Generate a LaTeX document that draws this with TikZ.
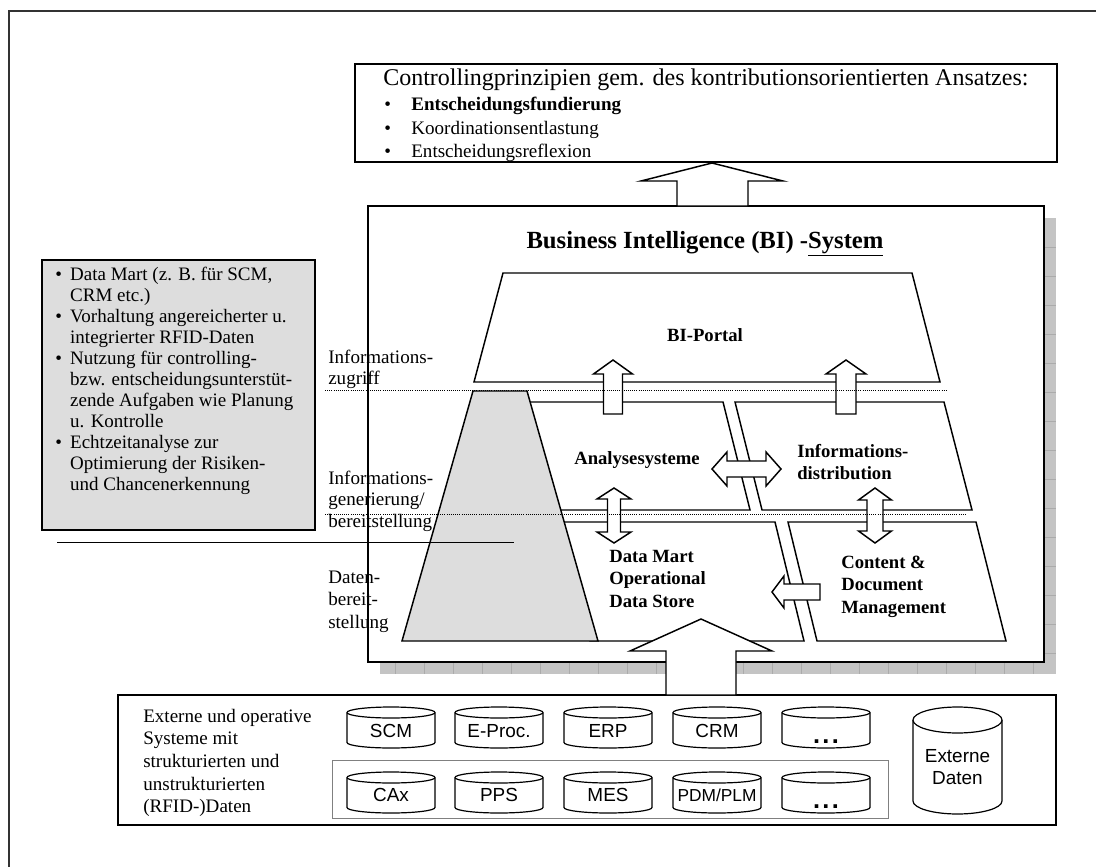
\documentclass[tikz,border=0pt]{standalone}
\usepackage{fontspec}
\setmainfont{Liberation Serif}
\setsansfont{Liberation Sans}
\definecolor{panelgray}{HTML}{DDDDDD}
\definecolor{shadowgray}{HTML}{C4C4C4}
\definecolor{shadowgrid}{HTML}{ABABAB}
\definecolor{framegray}{HTML}{333333}
% stacked lines whose first baseline is the node baseline
\newcommand\stackL[1]{\begin{tabular}[t]{@{}l@{}}#1\end{tabular}}
\newcommand\stackC[1]{\begin{tabular}[t]{@{}c@{}}#1\end{tabular}}
% spaced continuation dots for the open database slots
\newcommand\moredots{.\kern1.8pt.\kern1.8pt.}
% database cylinder: name, centre x, top y, bottom y, half width, ellipse half height, baseline, label, font
\newcommand\dbcyl[9]{%
  \draw[cylstyle] ({#2-#5},{#3+#6}) -- ({#2-#5},{#4-#6})
     arc[start angle=180,end angle=360,x radius=#5*0.75pt,y radius=#6*0.75pt]
     -- ({#2+#5},{#3+#6})
     arc[start angle=0,end angle=180,x radius=#5*0.75pt,y radius=#6*0.75pt] -- cycle;
  \draw[cylstyle] ({#2-#5},{#3+#6})
     arc[start angle=180,end angle=360,x radius=#5*0.75pt,y radius=#6*0.75pt];
  \node[dbtext,font=#9,anchor=base] (#1) at (#2,#7) {#8};
}
\begin{document}
\begin{tikzpicture}[x=0.75pt,y=-0.75pt,
  outline/.style={draw=black,line width=1.1pt},
  bibox/.style={draw=black,line width=1.5pt,fill=white},
  panel/.style={draw=black,line width=1.1pt,fill=white},
  pyramid/.style={draw=black,line width=1.1pt,fill=panelgray},
  blockarrow/.style={draw=black,line width=1.1pt,fill=white,line join=miter},
  guide/.style={densely dotted,line width=0.6pt},
  cylstyle/.style={draw=black,line width=0.9pt,fill=white},
  txt/.style={inner sep=0pt,font=\fontsize{14.3}{16.3}\selectfont},
  boldtxt/.style={inner sep=0pt,font=\bfseries\fontsize{14}{16.9}\selectfont},
  dbtext/.style={inner sep=0pt},
]
\useasboundingbox (0,0) rectangle (1096,867);

% page frame
\draw[framegray,line width=1.5pt] (9,880) -- (9,11) -- (1110,11);

% controlling principles
\draw[outline] (355,64) rectangle (1057,162);
\node[inner sep=0pt,anchor=base west,font=\fontsize{18}{20}\selectfont] (principles) at (383,86)
  {Controllingprinzipien gem. des kontributionsorientierten Ansatzes:};
\node[inner sep=0pt,anchor=base west,font=\fontsize{14.3}{17.4}\selectfont] (principlelist) at (384,111)
  {\begin{tabular}[t]{@{}l@{\hspace{15.3pt}}l@{}}
   \textbullet & \textbf{Entscheidungsfundierung}\\
   \textbullet & Koordinationsentlastung\\
   \textbullet & Entscheidungsreflexion
   \end{tabular}};

% BI system frame with its shadow
\fill[shadowgray] (380,218) rectangle (1056,674);
\begin{scope}
  \clip (380,218) rectangle (1056,674);
  \foreach \yy in {247,276,...,674} \draw[shadowgrid,line width=0.5pt] (380,\yy) -- (1056,\yy);
  \foreach \xx in {395,424,...,1056} \draw[shadowgrid,line width=0.5pt] (\xx,218) -- (\xx,674);
\end{scope}
\draw[bibox] (368,206) rectangle (1044,662);
\node[inner sep=0pt,anchor=base,font=\bfseries\fontsize{18.5}{22}\selectfont] (bititle) at (705,248)
  {Business Intelligence (BI) -\underline{System}};

% layers
\draw[panel] (503,273) -- (912,273) -- (940,382) -- (474,382) -- cycle;
\draw[panel] (500,402) -- (723,402) -- (750,510) -- (540,510) -- cycle;
\draw[panel] (735,402) -- (944,402) -- (972,510) -- (762,510) -- cycle;
\draw[panel] (540,522) -- (775,522) -- (804,641) -- (590,641) -- cycle;
\draw[panel] (788,522) -- (976,522) -- (1006,641) -- (817,641) -- cycle;
\draw[pyramid] (473,391) -- (527,391) -- (598,641) -- (402,641) -- cycle;

\node[boldtxt,anchor=base] (portal) at (705,341) {BI-Portal};
\node[boldtxt,anchor=base] (analysis) at (637,464) {Analysesysteme};
\node[boldtxt,anchor=base west] (distribution) at (797,457) {\stackL{Informations-\\distribution}};
\node[boldtxt,anchor=base west] (datamart) at (609,562) {\stackL{Data Mart\\Operational\\Data Store}};
\node[boldtxt,anchor=base west] (content) at (841,568) {\stackL{Content \&\\Document\\Management}};

% block arrows between the layers
\draw[blockarrow] (613,360) -- (632.5,374) -- (622.5,374) -- (622.5,414) -- (603.5,414) -- (603.5,374) -- (593.5,374) -- cycle;
\draw[blockarrow] (846,360) -- (866,374) -- (856,374) -- (856,414) -- (836,414) -- (836,374) -- (826,374) -- cycle;
\draw[blockarrow] (712,469) -- (727,452) -- (727,461) -- (766,461) -- (766,452) -- (781,469)
  -- (766,486) -- (766,477) -- (727,477) -- (727,486) -- cycle;
\draw[blockarrow] (614,488) -- (631,499) -- (620.5,499) -- (620.5,532) -- (631,532) -- (614,543)
  -- (597,532) -- (607.5,532) -- (607.5,499) -- (597,499) -- cycle;
\draw[blockarrow] (875,488) -- (891.5,500) -- (883,500) -- (883,531) -- (891.5,531) -- (875,543)
  -- (858.5,531) -- (867,531) -- (867,500) -- (858.5,500) -- cycle;
\draw[blockarrow] (772,592) -- (784,576) -- (784,584) -- (820,584) -- (820,600) -- (784,600) -- (784,608) -- cycle;

% level labels and guides
\node[txt,anchor=base west] (access) at (328,363) {\stackL{Informations-\\zugriff}};
\node[txt,anchor=base west] (generation) at (328,484) {\stackL{Informations-\\generierung/\\bereitstellung}};
\node[txt,anchor=base west,font=\fontsize{14.3}{17}\selectfont] (provision) at (328,583) {\stackL{Daten-\\bereit-\\stellung}};
\draw[guide] (325,390.5) -- (946,390.5);
\draw[guide] (325,514) -- (967,514);

% data mart notes
\draw[draw=black,line width=1.1pt,fill=panelgray] (42,260) rectangle (315,530);
\node[inner sep=0pt,anchor=base west,font=\fontsize{14.25}{15.75}\selectfont] (notes) at (55,280)
  {\begin{tabular}[t]{@{}l@{\hspace{6.2pt}}l@{}}
   \textbullet & Data Mart (z. B. für SCM,\\
               & CRM etc.)\\
   \textbullet & Vorhaltung angereicherter u.\\
               & integrierter RFID-Daten\\
   \textbullet & Nutzung für controlling-\\
               & bzw. entscheidungsunterstüt-\\
               & zende Aufgaben wie Planung\\
               & u. Kontrolle\\
   \textbullet & Echtzeitanalyse zur\\
               & Optimierung der Risiken-\\
               & und Chancenerkennung
   \end{tabular}};
\draw[line width=1.1pt] (57,542.5) -- (514,542.5);

% source systems
\draw[outline] (118,695) rectangle (1056,825);
\draw[draw=gray,line width=0.7pt] (332,760) rectangle (888,818);
\node[txt,anchor=base west,font=\fontsize{14.3}{17}\selectfont] (sources) at (143,722)
  {\stackL{Externe und operative\\Systeme mit\\strukturierten und\\unstrukturierten\\(RFID-)Daten}};
\def\dbfont{\sffamily\fontsize{14.2}{16}\selectfont}
\def\dotfont{\sffamily\bfseries\fontsize{19}{20}\selectfont}
\dbcyl{scm}{391}{707}{748}{44}{5.5}{737}{SCM}{\dbfont}
\dbcyl{eproc}{499}{707}{748}{44}{5.5}{737}{E-Proc.}{\dbfont}
\dbcyl{erp}{608}{707}{748}{44}{5.5}{737}{ERP}{\dbfont}
\dbcyl{crm}{717}{707}{748}{44}{5.5}{737}{CRM}{\dbfont}
\dbcyl{moreA}{826}{707}{748}{44}{5.5}{743}{\moredots}{\dotfont}
\dbcyl{cax}{391}{772}{813}{44}{5.5}{801}{CAx}{\dbfont}
\dbcyl{pps}{499}{772}{813}{44}{5.5}{801}{PPS}{\dbfont}
\dbcyl{mes}{608}{772}{813}{44}{5.5}{801}{MES}{\dbfont}
\dbcyl{pdm}{717}{772}{813}{44}{5.5}{801}{PDM/PLM}{\sffamily\fontsize{13}{16}\selectfont}
\dbcyl{moreB}{826}{772}{813}{44}{5.5}{808}{\moredots}{\dotfont}
\dbcyl{external}{957.5}{707}{814}{44.5}{13}{762}{\stackC{Externe\\Daten}}{\sffamily\fontsize{14.2}{16.5}\selectfont}

% data flow into the BI system and up to controlling
\draw[blockarrow] (701,619) -- (772,651) -- (736,651) -- (736,695) -- (666,695) -- (666,651) -- (630,651) -- cycle;
\draw[blockarrow] (712,163) -- (783,181) -- (748,181) -- (748,206) -- (677,206) -- (677,181) -- (641,181) -- cycle;
\end{tikzpicture}
\end{document}
